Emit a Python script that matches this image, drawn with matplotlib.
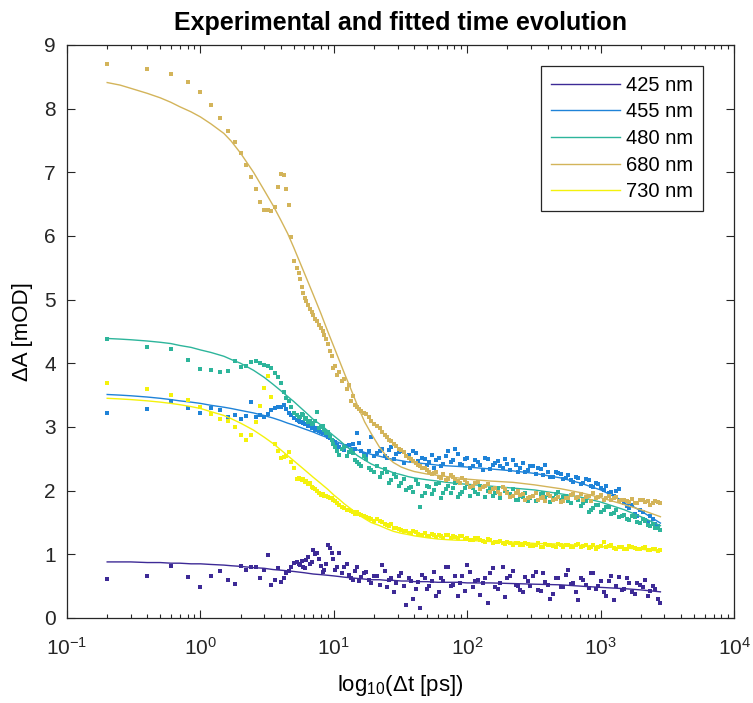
import numpy as np
import matplotlib
matplotlib.use("Agg")
import matplotlib.pyplot as plt
from matplotlib.ticker import LogLocator, NullFormatter

plt.rcParams['font.family'] = ['Liberation Sans', 'DejaVu Sans']
plt.rcParams['mathtext.fontset'] = 'custom'
plt.rcParams['mathtext.rm'] = 'Liberation Sans'
plt.rcParams['mathtext.it'] = 'Liberation Sans:italic'

# measured delays (ps), shared by all probe wavelengths
t_ps = [0.2, 0.4, 0.6, 0.8, 1.0, 1.2, 1.4, 1.6, 1.8, 2.0,
        2.2, 2.4, 2.6, 2.8, 3.0, 3.2, 3.4, 3.6, 3.8, 4.0,
        4.2, 4.4, 4.6, 4.8, 5.0,
        5.3, 5.6, 5.9, 6.2, 6.6, 7.0, 7.5, 8.0, 8.5, 9.0,
        9.6, 10.2, 11, 12, 13, 14, 15, 16, 17.5, 19,
        21, 23, 25, 27, 29, 32, 35, 38, 41, 44,
        48, 52, 56, 61, 66, 72, 78, 85, 92, 100,
        110, 120, 130, 142, 155, 170, 185, 200, 220, 240,
        260, 285, 310, 340, 370, 400, 440, 480, 520, 570,
        620, 680, 740, 810, 880, 960, 1050, 1150, 1250, 1370,
        1500, 1640, 1800, 1970, 2150, 2350, 2570, 2800]

dA_425 = [0.61, 0.66, 0.82, 0.65, 0.48, 0.66, 0.74, 0.60, 0.54, 0.81,
          0.76, 0.80, 0.80, 0.62, 0.75, 0.99, 0.52, 0.60, 0.78, 0.57,
          0.62, 0.70, 0.73, 0.80, 0.86,
          0.88, 0.83, 0.80, 0.91, 0.85, 1.07, 1.02, 0.81, 0.75, 1.15,
          1.02, 0.75, 1.02, 0.80, 0.68, 0.60, 0.80, 0.64, 0.72, 0.55,
          0.66, 0.83, 0.48, 0.62, 0.55, 0.70, 0.20, 0.58, 0.45, 0.15,
          0.62, 0.50, 0.72, 0.40, 0.58, 0.80, 0.52, 0.35, 0.66, 0.83,
          0.48, 0.60, 0.55, 0.23, 0.78, 0.45, 0.80, 0.62, 0.73, 0.50,
          0.40, 0.58, 0.66, 0.44, 0.70, 0.52, 0.38, 0.62, 0.48, 0.75,
          0.55, 0.28, 0.60, 0.47, 0.71, 0.50, 0.40, 0.58, 0.28, 0.65,
          0.46, 0.55, 0.38, 0.52, 0.60, 0.42, 0.46, 0.23]

dA_455 = [3.22, 3.28, 3.40, 3.29, 3.22, 3.29, 3.26, 3.16, 3.18, 3.13,
          3.17, 3.39, 3.15, 3.19, 3.16, 3.21, 3.27, 3.30, 3.32, 3.32,
          3.35, 3.28, 3.22, 3.18, 3.14,
          3.11, 3.08, 3.06, 3.04, 3.06, 3.00, 2.98, 2.92, 2.90, 2.85,
          2.80, 2.76, 2.69, 2.64, 2.72, 2.74, 2.90, 2.62, 2.56, 2.85,
          2.59, 2.66, 2.52, 2.69, 2.58, 2.62, 2.55, 2.48, 2.59, 2.38,
          2.50, 2.45, 2.36, 2.52, 2.42, 2.62, 2.48, 2.58, 2.40, 2.52,
          2.38, 2.45, 2.33, 2.50, 2.40, 2.46, 2.36, 2.42, 2.48, 2.30,
          2.44, 2.33, 2.38, 2.36, 2.25, 2.30, 2.22, 2.28, 2.18, 2.24,
          2.14, 2.20, 2.12, 2.16, 2.06, 2.10, 2.01, 1.96, 1.91, 2.02,
          1.80, 1.72, 1.64, 1.70, 1.54, 1.60, 1.48, 1.38]

dA_480 = [4.38, 4.25, 4.23, 4.05, 3.91, 3.89, 3.87, 3.88, 4.03, 3.94,
          3.95, 4.02, 4.03, 4.01, 3.98, 3.96, 3.92, 3.85, 3.79, 3.69,
          3.55, 3.46, 3.40, 3.32, 3.22,
          3.18, 3.16, 3.19, 3.14, 3.10, 3.06, 3.24, 3.00, 2.95, 2.92,
          2.80, 2.69, 2.56, 2.69, 2.60, 2.59, 2.45, 2.38, 2.50, 2.32,
          2.38, 2.27, 2.30, 2.17, 2.22, 2.12, 2.01, 2.06, 2.16, 1.75,
          1.96, 2.05, 2.01, 2.12, 1.96, 2.08, 2.04, 1.90, 1.98, 2.10,
          2.04, 1.95, 2.06, 2.00, 1.92, 2.04, 2.06, 1.98, 2.02, 1.85,
          1.90, 1.83, 1.92, 1.86, 1.96, 1.93, 1.88, 1.98, 1.90, 1.84,
          1.94, 1.86, 1.80, 1.67, 1.72, 1.78, 1.70, 1.74, 1.65, 1.59,
          1.62, 1.54, 1.58, 1.49, 1.52, 1.45, 1.41, 1.38]

dA_680 = [8.70, 8.63, 8.55, 8.42, 8.26, 8.06, 7.85, 7.65, 7.48, 7.30,
          7.11, 6.93, 6.74, 6.53, 6.41, 6.41, 6.40, 6.45, 6.77, 6.98,
          6.96, 6.74, 6.49, 5.98, 5.61,
          5.50, 5.32, 5.10, 4.98, 4.86, 4.76, 4.66, 4.55, 4.45, 4.30,
          4.12, 3.95, 3.86, 3.76, 3.66, 3.48, 3.32, 3.25, 3.20, 3.10,
          3.02, 2.92, 2.84, 2.78, 2.70, 2.64, 2.55, 2.50, 2.44, 2.38,
          2.35, 2.30, 2.28, 2.22, 2.26, 2.18, 2.22, 2.15, 2.20, 2.12,
          2.08, 2.14, 2.05, 2.10, 2.02, 1.98, 2.06, 1.96, 1.92, 2.00,
          1.95, 1.88, 1.92, 1.85, 1.90, 1.94, 1.86, 1.90, 1.84, 1.88,
          1.95, 1.90, 1.86, 1.92, 1.96, 1.90, 1.86, 1.92, 1.88, 1.84,
          1.86, 1.82, 1.80, 1.85, 1.82, 1.78, 1.84, 1.81]

dA_730 = [3.69, 3.59, 3.50, 3.42, 3.31, 3.20, 3.13, 3.09, 3.00, 2.87,
          2.79, 2.87, 3.08, 3.33, 3.61, 3.80, 3.47, 2.74, 2.62, 2.51,
          2.53, 2.55, 2.60, 2.45, 2.35,
          2.19, 2.18, 2.18, 2.15, 2.12, 2.04, 2.00, 1.93, 1.92, 1.90,
          1.88, 1.84, 1.77, 1.72, 1.69, 1.67, 1.66, 1.62, 1.59, 1.56,
          1.55, 1.51, 1.46, 1.47, 1.41, 1.38, 1.36, 1.33, 1.35, 1.31,
          1.33, 1.28, 1.31, 1.30, 1.26, 1.31, 1.28, 1.25, 1.28, 1.26,
          1.22, 1.25, 1.21, 1.24, 1.18, 1.20, 1.17, 1.19, 1.15, 1.18,
          1.14, 1.16, 1.13, 1.17, 1.12, 1.15, 1.13, 1.16, 1.11, 1.14,
          1.12, 1.16, 1.13, 1.10, 1.14, 1.11, 1.20, 1.13, 1.10, 1.12,
          1.09, 1.13, 1.10, 1.08, 1.11, 1.07, 1.09, 1.07]

# in-between delays of the dense part of the scan
t_mid = [5.45, 5.75, 6.05, 6.4, 6.8, 7.25, 7.75, 8.25, 8.75, 9.3,
         9.9, 10.6, 11.5, 12.5, 13.5, 14.5, 15.5, 16.7, 18.2, 20,
         22, 24, 26, 28, 30.5, 33.5, 36.5, 39.5, 42.5, 46,
         50, 54, 58.5, 63.5, 69, 75, 81.5, 88.5, 96, 105,
         115, 125, 136, 148, 162, 177, 192, 210, 230, 250,
         272, 297, 325, 355, 385, 420, 460, 500, 545, 595,
         650, 710, 775, 845, 920, 1005, 1100, 1200, 1310, 1435,
         1570, 1720, 1885, 2060, 2250, 2460, 2685]

mid_425 = [0.84, 0.90, 0.78, 0.95, 0.88, 1.00, 0.92, 0.72, 0.85, 1.10,
           0.92, 0.80, 0.70, 0.84, 0.62, 0.74, 0.58, 0.70, 0.60, 0.66,
           0.52, 0.74, 0.60, 0.40, 0.66, 0.50, 0.62, 0.30, 0.56, 0.68,
           0.46, 0.58, 0.35, 0.62, 0.80, 0.50, 0.66, 0.55, 0.42, 0.72,
           0.58, 0.36, 0.62, 0.70, 0.48, 0.55, 0.33, 0.66, 0.52, 0.44,
           0.64, 0.50, 0.72, 0.42, 0.56, 0.30, 0.62, 0.48, 0.68, 0.54,
           0.40, 0.62, 0.52, 0.70, 0.45, 0.58, 0.35, 0.66, 0.50, 0.44,
           0.62, 0.40, 0.55, 0.48, 0.35, 0.50, 0.30]

mid_455 = [3.10, 3.07, 3.05, 3.02, 2.98, 2.96, 2.93, 2.90, 2.88, 2.83,
           2.78, 2.72, 2.66, 2.70, 2.60, 2.66, 2.75, 2.58, 2.62, 2.54,
           2.62, 2.55, 2.64, 2.50, 2.60, 2.44, 2.56, 2.62, 2.46, 2.52,
           2.40, 2.56, 2.48, 2.38, 2.55, 2.45, 2.66, 2.42, 2.50, 2.36,
           2.48, 2.40, 2.52, 2.34, 2.44, 2.38, 2.50, 2.32, 2.40, 2.36,
           2.30, 2.38, 2.26, 2.34, 2.40, 2.22, 2.30, 2.26, 2.20, 2.16,
           2.22, 2.10, 2.18, 2.08, 2.12, 2.04, 2.08, 1.98, 2.00, 1.86,
           1.76, 1.78, 1.60, 1.66, 1.50, 1.56, 1.44]

mid_480 = [3.15, 3.20, 3.12, 3.08, 3.04, 3.10, 2.98, 3.02, 2.90, 2.86,
           2.74, 2.62, 2.66, 2.55, 2.64, 2.48, 2.42, 2.54, 2.36, 2.30,
           2.22, 2.34, 2.12, 2.26, 2.08, 2.18, 2.04, 1.98, 2.10, 1.92,
           2.08, 1.94, 2.10, 1.88, 2.02, 1.96, 2.12, 1.94, 2.04, 1.92,
           1.98, 2.08, 1.90, 2.02, 1.96, 1.88, 2.00, 1.94, 1.86, 1.92,
           1.96, 1.88, 1.84, 1.94, 1.90, 1.82, 1.95, 1.86, 1.92, 1.80,
           1.88, 1.76, 1.84, 1.70, 1.78, 1.66, 1.74, 1.64, 1.70, 1.60,
           1.56, 1.60, 1.50, 1.55, 1.46, 1.48, 1.42]

mid_680 = [5.42, 5.20, 5.02, 4.92, 4.80, 4.70, 4.60, 4.50, 4.38, 4.20,
           3.92, 3.82, 3.72, 3.60, 3.40, 3.34, 3.28, 3.22, 3.15, 3.05,
           2.98, 2.88, 2.80, 2.74, 2.66, 2.60, 2.52, 2.47, 2.40, 2.36,
           2.32, 2.26, 2.30, 2.20, 2.16, 2.24, 2.18, 2.12, 2.17, 2.06,
           2.12, 2.02, 2.08, 1.98, 2.04, 1.94, 2.02, 1.90, 1.97, 1.93,
           1.86, 1.90, 1.96, 1.88, 1.84, 1.91, 1.87, 1.82, 1.89, 1.93,
           1.88, 1.94, 1.90, 1.84, 1.88, 1.93, 1.89, 1.85, 1.90, 1.86,
           1.83, 1.87, 1.81, 1.86, 1.83, 1.80, 1.82]

mid_730 = [2.20, 2.16, 2.14, 2.10, 2.06, 2.02, 1.96, 1.94, 1.91, 1.89,
           1.86, 1.80, 1.74, 1.70, 1.68, 1.64, 1.63, 1.60, 1.57, 1.53,
           1.52, 1.48, 1.44, 1.42, 1.39, 1.36, 1.34, 1.36, 1.32, 1.30,
           1.29, 1.32, 1.27, 1.29, 1.30, 1.25, 1.27, 1.29, 1.24, 1.23,
           1.26, 1.22, 1.20, 1.23, 1.19, 1.21, 1.16, 1.18, 1.17, 1.15,
           1.17, 1.13, 1.15, 1.12, 1.16, 1.14, 1.11, 1.14, 1.15, 1.12,
           1.15, 1.11, 1.14, 1.12, 1.09, 1.13, 1.11, 1.14, 1.09, 1.11,
           1.08, 1.12, 1.09, 1.10, 1.06, 1.09, 1.05]

# fitted curves
t_fit = [0.2, 0.25, 0.3, 0.4, 0.5, 0.6, 0.7, 0.85, 1, 1.2,
         1.5, 1.7, 2, 2.5, 3, 3.5, 4, 4.5, 5, 6,
         7, 8, 9, 10, 11, 12, 13.5, 15, 17, 19,
         22, 25, 28, 32, 36, 40, 50, 60, 70, 85,
         100, 150, 220, 320, 500, 700, 1000, 1500, 2000, 2800]

fit_425 = [0.88, 0.88, 0.88, 0.87, 0.87, 0.86, 0.86, 0.85, 0.85, 0.84,
           0.83, 0.82, 0.81, 0.79, 0.78, 0.76, 0.75, 0.74, 0.73, 0.71,
           0.69, 0.68, 0.67, 0.66, 0.65, 0.64, 0.63, 0.62, 0.61, 0.60,
           0.60, 0.59, 0.59, 0.58, 0.58, 0.57, 0.57, 0.56, 0.56, 0.56,
           0.55, 0.55, 0.54, 0.53, 0.52, 0.50, 0.48, 0.46, 0.44, 0.41]
fit_455 = [3.51, 3.50, 3.49, 3.47, 3.45, 3.43, 3.41, 3.39, 3.37, 3.34,
           3.31, 3.29, 3.26, 3.22, 3.18, 3.14, 3.10, 3.06, 3.03, 2.97,
           2.92, 2.87, 2.83, 2.79, 2.75, 2.72, 2.68, 2.64, 2.60, 2.57,
           2.54, 2.51, 2.49, 2.47, 2.45, 2.44, 2.42, 2.40, 2.39, 2.38,
           2.37, 2.34, 2.31, 2.27, 2.20, 2.12, 2.01, 1.83, 1.68, 1.49]
fit_480 = [4.39, 4.38, 4.37, 4.35, 4.33, 4.31, 4.28, 4.25, 4.21, 4.17,
           4.11, 4.06, 4.00, 3.89, 3.78, 3.67, 3.57, 3.48, 3.40, 3.25,
           3.12, 3.03, 2.94, 2.86, 2.79, 2.72, 2.63, 2.55, 2.48, 2.42,
           2.36, 2.32, 2.28, 2.25, 2.22, 2.20, 2.17, 2.15, 2.13, 2.11,
           2.10, 2.07, 2.04, 2.01, 1.95, 1.90, 1.82, 1.70, 1.59, 1.45]
fit_680 = [8.41, 8.37, 8.32, 8.24, 8.17, 8.10, 8.03, 7.95, 7.87, 7.76,
           7.61, 7.49, 7.30, 7.00, 6.72, 6.48, 6.25, 6.04, 5.82, 5.42,
           5.08, 4.78, 4.50, 4.26, 4.04, 3.84, 3.58, 3.34, 3.08, 2.90,
           2.68, 2.53, 2.44, 2.37, 2.33, 2.30, 2.26, 2.24, 2.22, 2.20,
           2.18, 2.15, 2.13, 2.09, 2.03, 1.97, 1.89, 1.78, 1.70, 1.59]
fit_730 = [3.45, 3.44, 3.43, 3.41, 3.39, 3.37, 3.35, 3.32, 3.29, 3.24,
           3.18, 3.13, 3.06, 2.95, 2.84, 2.74, 2.64, 2.55, 2.47, 2.33,
           2.21, 2.11, 2.02, 1.93, 1.86, 1.79, 1.71, 1.63, 1.56, 1.50,
           1.45, 1.40, 1.36, 1.33, 1.31, 1.29, 1.26, 1.24, 1.23, 1.22,
           1.22, 1.20, 1.19, 1.17, 1.16, 1.14, 1.12, 1.10, 1.08, 1.05]

labels = ["425 nm", "455 nm", "480 nm", "680 nm", "730 nm"]
colors = ["#3D2A96", "#1F83D8", "#2DB59B", "#D3B45A", "#F4F20C"]
data = [dA_425, dA_455, dA_480, dA_680, dA_730]
data_mid = [mid_425, mid_455, mid_480, mid_680, mid_730]
fits = [fit_425, fit_455, fit_480, fit_680, fit_730]


def main():
    fig = plt.figure(figsize=(7.53, 7.03), dpi=100)
    ax = fig.add_axes([0.089, 0.121, 0.886, 0.815])

    t_all = np.concatenate([t_ps, t_mid])
    handles = []
    for y, ym, yf, c, lab in zip(data, data_mid, fits, colors, labels):
        ax.plot(t_all, np.concatenate([y, ym]), ls="none", marker="s",
                ms=2.4, mew=0, color=c)
        h, = ax.plot(t_fit, yf, color=c, lw=1.0, label=lab)
        handles.append(h)

    ax.set_xscale("log")
    ax.set_xlim(0.1, 1e4)
    ax.set_ylim(0, 9)
    ax.set_yticks(range(0, 10))
    ax.xaxis.set_major_locator(LogLocator(base=10, numticks=10))
    ax.xaxis.set_minor_locator(LogLocator(base=10, subs=np.arange(2, 10), numticks=10))
    ax.xaxis.set_minor_formatter(NullFormatter())

    ax.tick_params(which="both", direction="in", top=True, right=True,
                   colors="#262626", labelsize=15, width=0.8)
    ax.tick_params(which="major", length=6)
    ax.tick_params(which="minor", length=3)
    ax.tick_params(axis="x", which="major", pad=14)
    ax.tick_params(axis="y", which="major", pad=8)
    for s in ax.spines.values():
        s.set_color("#262626")
        s.set_linewidth(0.9)

    ax.set_xlabel(r"log$_{\mathregular{10}}$($\Delta$t [ps])", fontsize=16, labelpad=10)
    ax.set_ylabel("ΔA [mOD]", fontsize=16, labelpad=8)
    ax.set_title("Experimental and fitted time evolution", fontsize=18,
                 fontweight="bold", pad=11)

    leg = ax.legend(handles=handles, loc="upper right",
                    bbox_to_anchor=(0.953, 0.964), borderaxespad=0,
                    fontsize=14.5, handlelength=3.4, handletextpad=0.3,
                    labelspacing=0.38, borderpad=0.5, fancybox=False,
                    framealpha=1, edgecolor="#262626")
    leg.get_frame().set_linewidth(0.9)

    fig.savefig("out.png", dpi=100)


if __name__ == "__main__":
    main()
